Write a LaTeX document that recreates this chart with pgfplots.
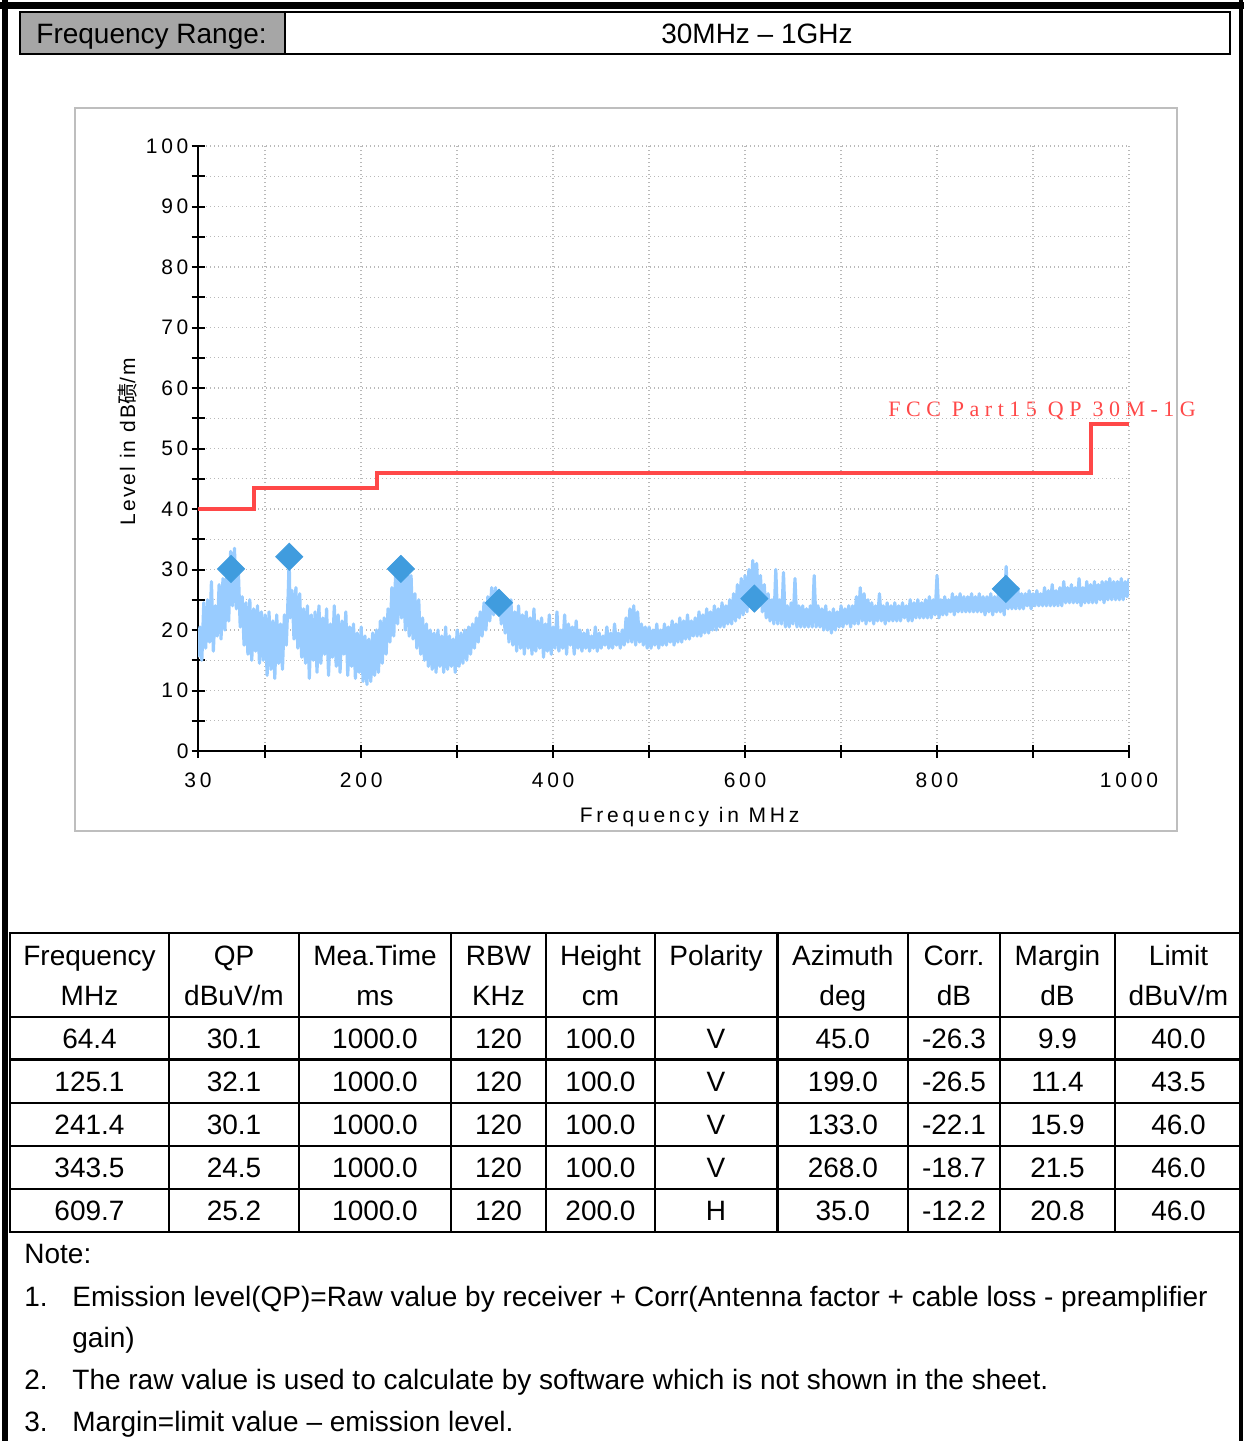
\documentclass[border=0pt]{standalone}
\usepackage{pgfplots}
\pgfplotsset{compat=1.18}
\usepackage{fontspec}
\setmainfont{Liberation Sans}
\newfontfamily\spacedfont[LetterSpace=18]{Liberation Sans}
\newfontfamily\ylabfont[LetterSpace=10]{Liberation Sans}
\newfontfamily\limitfont[LetterSpace=25]{Liberation Serif}
\newfontfamily\cjk{Noto Sans CJK SC}
\newcommand\tf{\fontsize{14}{16}\selectfont}

\definecolor{tracecol}{RGB}{153,204,255}
\definecolor{peakcol}{RGB}{64,156,222}
\definecolor{limitred}{RGB}{255,72,72}
\definecolor{gridgray}{RGB}{185,185,185}
\definecolor{hdrgray}{RGB}{166,166,166}
\definecolor{panelgray}{RGB}{190,190,190}

\begin{document}
\begin{tikzpicture}
\begin{scope}[x=0.5pt,y=-0.5pt]
  \path[use as bounding box] (0,0) rectangle (1244,1441);
  % page frame
  \fill (0,2) rectangle (1244,9);
  \fill (2,0) rectangle (8,1441);
  \fill (1239,0) rectangle (1243,1441);
  % header
  \filldraw[fill=hdrgray, draw=black, line width=1pt] (20,12) rectangle (285,54);
  \draw[line width=1pt] (285,12) rectangle (1230,54);
  \node[anchor=base west, inner sep=0pt, font=\tf] at (36,43) {Frequency Range:};
  \node[anchor=base, inner sep=0pt, font=\tf] at (757,43) {30MHz – 1GHz};
  % chart panel
  \draw[panelgray, line width=1pt] (75,108) rectangle (1177,831);
  \node[anchor=base west, inner sep=0pt, text=limitred, font=\limitfont\fontsize{11}{13}\selectfont] at (888,416) {FCC Part15 QP 30M-1G};
  % table
  \draw[line width=1.2pt] (10,932.7) rectangle (1242,1231.7);
  \foreach \yy in {1016.7,1059.3,1102.7,1145.7,1189}
    \draw[line width=1.2pt] (10,\yy) -- (1242,\yy);
  \foreach \xx in {169,299,451,546,655,777.5,908,1000,1115}
    \draw[line width=1.2pt] (\xx,932.7) -- (\xx,1231.7);
  \begin{scope}[every node/.style={anchor=base, inner sep=0pt, font=\tf}]
    \node at (89.5,965) {Frequency};  \node at (89.5,1005) {MHz};
    \node at (234,965) {QP};          \node at (234,1005) {dBuV/m};
    \node at (375,965) {Mea.Time};    \node at (375,1005) {ms};
    \node at (498.5,965) {RBW};       \node at (498.5,1005) {KHz};
    \node at (600.5,965) {Height};    \node at (600.5,1005) {cm};
    \node at (716,965) {Polarity};
    \node at (842.8,965) {Azimuth};   \node at (842.8,1005) {deg};
    \node at (954,965) {Corr.};       \node at (954,1005) {dB};
    \node at (1057.5,965) {Margin};   \node at (1057.5,1005) {dB};
    \node at (1178.5,965) {Limit};    \node at (1178.5,1005) {dBuV/m};
    \foreach \yb/\a/\b/\c/\d/\e/\f/\g/\h/\i/\j in {
      1048/64.4/30.1/1000.0/120/100.0/V/45.0/-26.3/9.9/40.0,
      1091/125.1/32.1/1000.0/120/100.0/V/199.0/-26.5/11.4/43.5,
      1134/241.4/30.1/1000.0/120/100.0/V/133.0/-22.1/15.9/46.0,
      1177/343.5/24.5/1000.0/120/100.0/V/268.0/-18.7/21.5/46.0,
      1220/609.7/25.2/1000.0/120/200.0/H/35.0/-12.2/20.8/46.0}{
      \node at (89.5,\yb) {\a};
      \node at (234,\yb) {\b};
      \node at (375,\yb) {\c};
      \node at (498.5,\yb) {\d};
      \node at (600.5,\yb) {\e};
      \node at (716,\yb) {\f};
      \node at (842.8,\yb) {\g};
      \node at (954,\yb) {\h};
      \node at (1057.5,\yb) {\i};
      \node at (1178.5,\yb) {\j};
    }
  \end{scope}
  % notes
  \begin{scope}[every node/.style={anchor=base west, inner sep=0pt, font=\tf}]
    \node at (24,1263) {Note:};
    \node at (24,1306) {1.};
    \node at (72,1306) {Emission level(QP)=Raw value by receiver + Corr(Antenna factor + cable loss - preamplifier};
    \node at (72,1347) {gain)};
    \node at (24,1389) {2.};
    \node at (72,1389) {The raw value is used to calculate by software which is not shown in the sheet.};
    \node at (24,1431) {3.};
    \node at (72,1431) {Margin=limit value – emission level.};
  \end{scope}
\end{scope}

\begin{axis}[
  at={(99pt,-375.5pt)}, anchor=south west,
  scale only axis, width=465.5pt, height=302.5pt,
  xmin=30, xmax=1000, ymin=0, ymax=100,
  axis lines*=left,
  axis line style={line width=1pt, black},
  xtick={30,100,200,...,1000},
  xticklabels={30,,200,,400,,600,,800,,1000},
  ytick={0,10,...,100},
  yticklabels={0,10,20,30,40,50,60,70,80,90,100},
  minor ytick={5,15,...,95},
  tick align=center,
  major tick length=6.5pt, minor tick length=6.5pt,
  every tick/.style={line width=1pt, black},
  grid=both,
  major grid style={gridgray, line width=0.7pt, dash pattern=on 0.7pt off 1.3pt},
  minor grid style={gridgray, line width=0.7pt, dash pattern=on 0.7pt off 1.3pt},
  ticklabel style={font=\spacedfont\fontsize{10.5}{12}\selectfont},
  xticklabel style={yshift=-4pt},
  yticklabel style={xshift=2pt},
  xlabel={Frequency in MHz},
  xlabel style={font=\spacedfont\fontsize{10.5}{12}\selectfont, at={(axis description cs:0.528,-0.11)}, anchor=center},
  ylabel={Level in dB{\cjk 碛}/m},
  ylabel style={font=\ylabfont\fontsize{10.5}{12}\selectfont, at={(axis description cs:-0.076,0.511)}, anchor=center},
]
% measured spectrum
\addplot[color=tracecol, line width=1.6pt, line join=round, no markers] coordinates {
(30,15.5)(32,20.5)(34,15)(36,24.5)(38,17)(40,25)(42,18)(44,28)(46,16.5)(48,24)
(50,19)(52,27.5)(54,18.5)(56,28.5)(58,20)(60,29.5)(62,21.5)(64,33)(66,24)(68,33.5)
(70,23.5)(72,30)(74,20.5)(76,25.5)(78,17.5)(80,24.5)(82,16)(84,25)(86,15)(88,23.5)
(90,16.5)(92,24)(94,14.5)(96,23)(98,15)(100,22.5)(102,12.5)(104,23)(106,13.5)(108,21.5)
(110,12)(112,22.5)(114,14.5)(116,21)(118,13.5)(120,22.5)(122,17.5)(124,26)(125,31.8)(126,22)
(128,26.5)(130,18.5)(132,27)(134,17)(136,26)(138,15.5)(140,23.5)(142,14.5)(144,24)(146,12)
(148,22.5)(150,15)(152,23)(154,13)(156,24)(158,14.5)(160,22)(162,16)(164,23.5)(166,12.5)
(168,21)(170,15.5)(172,24)(174,14)(176,22.5)(178,13)(180,21.5)(182,16)(184,23)(186,12.5)
(188,20.5)(190,14)(192,21)(194,12)(196,19.5)(198,13)(200,20.5)(202,11.5)(204,19)(206,11)
(208,18.5)(210,11.5)(212,19.5)(214,12.5)(216,20)(218,13)(220,21.5)(222,14.5)(224,22)(226,16)
(228,23.5)(230,18)(232,27)(234,19)(236,30)(238,21)(240,31)(242,22)(244,30.5)(246,20)
(248,31)(250,19)(252,29)(254,18.5)(256,26)(258,17)(260,25)(262,16)(264,22)(266,15)
(268,21)(270,14)(272,20)(274,13.5)(276,19.5)(278,13)(280,20)(282,14)(284,19)(286,13)
(288,20.5)(290,13.5)(292,19)(294,14)(296,18.5)(298,13)(300,20)(302,14)(304,19.5)(306,14.5)
(308,20)(310,15)(312,20.5)(314,16)(316,21)(318,17)(320,22)(322,18)(324,23)(326,19)
(328,24.5)(330,20)(332,25.5)(334,21.5)(336,27)(338,22.5)(340,27)(342,23)(344,26)(346,21)
(348,25.5)(350,19.5)(352,24.5)(354,18)(356,25)(358,17.5)(360,23)(362,16.5)(364,24)(366,17)
(368,22.5)(370,16)(372,23)(374,17)(376,22)(378,16)(380,23.5)(382,16.5)(384,21.5)(386,17)
(388,22)(390,15.5)(392,21)(394,16.5)(396,22.5)(398,16)(400,20.5)(402,17)(404,23)(406,16.5)
(408,20)(410,17)(412,22.5)(414,16)(416,21)(418,17.5)(420,20.5)(422,16)(424,21.5)(426,17)
(428,20)(430,16.5)(432,19.5)(434,17)(436,20)(438,16.5)(440,19)(442,17)(444,20.5)(446,16.5)
(448,19.5)(450,17)(452,19)(454,17.5)(456,20.5)(458,17)(460,19.5)(462,17)(464,21)(466,17.5)
(468,19.5)(470,17)(472,20)(474,17.5)(476,22)(478,18)(480,23.5)(482,18)(484,24)(486,17.5)
(488,23)(490,18)(492,21)(494,17.5)(496,20.5)(498,17)(500,20.5)(502,17)(504,20)(506,17.5)
(508,21)(510,17)(512,20)(514,17.5)(516,21)(518,17.5)(520,20.5)(522,18)(524,21.5)(526,17.5)
(528,21)(530,18)(532,22)(534,18)(536,21.5)(538,18.5)(540,22.5)(542,18.5)(544,21.5)(546,19)
(548,22)(550,19)(552,23)(554,19)(556,22.5)(558,19.5)(560,23.5)(562,19.5)(564,23)(566,20)
(568,24)(570,20)(572,23.5)(574,20.5)(576,24.5)(578,20.5)(580,24)(582,21)(584,25)(586,21)
(588,26)(590,21.5)(592,27.5)(594,22)(596,28.5)(598,22.5)(600,29)(602,23)(604,30)(606,24.5)
(608,31.5)(610,25.5)(612,31)(614,24.5)(616,29)(618,23)(620,27.5)(622,22)(624,26)(626,21.5)
(628,25)(630,21)(632,30)(634,21)(636,25)(638,21)(640,29.5)(642,20.5)(644,24)(646,20.5)
(648,24.5)(650,21)(652,28.5)(654,20.5)(656,24)(658,20.5)(660,24)(662,20.5)(664,23.5)(666,20.5)
(668,24)(670,20.5)(672,29)(674,20.5)(676,24)(678,20.5)(680,23.5)(682,20)(684,24)(686,20)
(688,23)(690,19.5)(692,23.5)(694,20)(696,23)(698,20.5)(700,24)(702,20.5)(704,23.5)(706,21)
(708,24)(710,20.5)(712,24)(714,21)(716,25.5)(718,21)(720,27)(722,21.5)(724,26)(726,21)
(728,25)(730,21.5)(732,24.5)(734,21)(736,24)(738,21.5)(740,26)(742,21.5)(744,24)(746,21)
(748,24.5)(750,21.5)(752,24)(754,21.5)(756,24.5)(758,21.5)(760,24)(762,21.5)(764,24.5)(766,22)
(768,24)(770,21.5)(772,25)(774,21.5)(776,24.5)(778,22)(780,25)(782,22)(784,24.5)(786,22)
(788,25)(790,22)(792,25.5)(794,22)(796,25)(798,22.5)(800,29)(802,22)(804,25)(806,22.5)
(808,25.5)(810,22.5)(812,25)(814,23)(816,26)(818,22.5)(820,25.5)(822,23)(824,26)(826,23)
(828,25.5)(830,23)(832,25.5)(834,23)(836,26)(838,23)(840,25.5)(842,23)(844,26)(846,23)
(848,25.5)(850,22.5)(852,25.5)(854,23)(856,26)(858,22.5)(860,25.5)(862,23)(864,26)(866,23)
(868,25.5)(870,22.5)(872,30.5)(874,23.5)(876,26.5)(878,23.5)(880,26)(882,23.5)(884,27)(886,23.5)
(888,26)(890,23.5)(892,26)(894,24)(896,26.5)(898,23.5)(900,26)(902,24)(904,26.5)(906,24)
(908,26)(910,24)(912,27)(914,24)(916,26.5)(918,24)(920,27.5)(922,24)(924,26.5)(926,24)
(928,27)(930,24)(932,28)(934,24.5)(936,27)(938,24.5)(940,27.5)(942,24.5)(944,27)(946,24.5)
(948,28.5)(950,24)(952,27)(954,24.5)(956,28)(958,24.5)(960,27.5)(962,24.5)(964,28)(966,24.5)
(968,27.5)(970,25)(972,28)(974,24.5)(976,28)(978,25)(980,28.5)(982,25)(984,28)(986,25)
(988,28)(990,25)(992,28.5)(994,25)(996,28)(998,25.5)(1000,28.5)
};
% FCC Part15 QP limit
\addplot[color=limitred, line width=2pt, const plot, no markers] coordinates {
(30,40)(88,43.5)(216,46)(960,54)(1000,54)
};
% final QP readings
\addplot[only marks, mark=square*, mark size=4.8pt,
  mark options={rotate=45, fill=peakcol, draw=peakcol}] coordinates {
(64.4,30.1)(125.1,32.1)(241.4,30.1)(343.5,24.5)(609.7,25.2)(871.7,26.8)
};
\end{axis}
\end{tikzpicture}
\end{document}
